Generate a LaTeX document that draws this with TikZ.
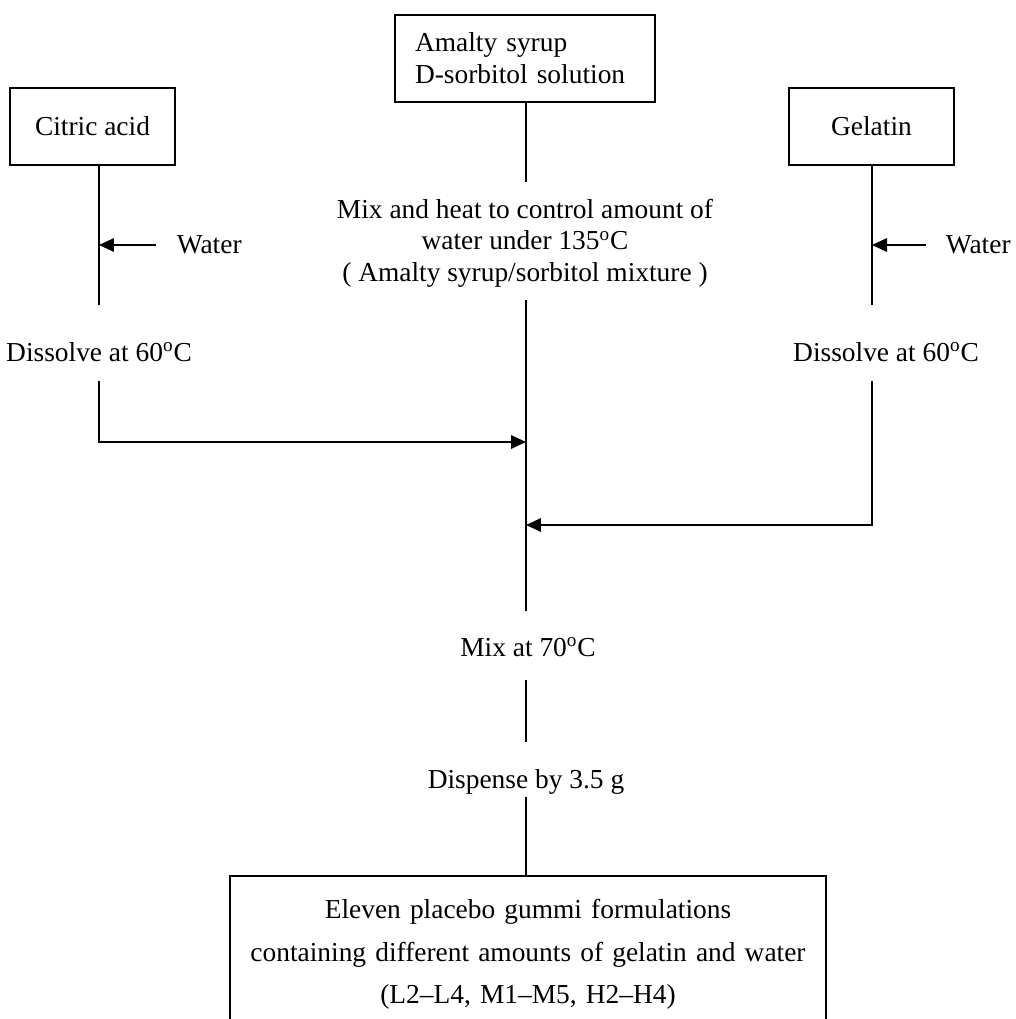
\documentclass[tikz,border=0pt]{standalone}
\usepackage{fontspec}
\setmainfont{Liberation Serif}
\usetikzlibrary{arrows.meta}

\begin{document}
\begin{tikzpicture}[x=0.02cm,y=-0.02cm,
line width=1pt,
font={\fontsize{15.6pt}{18pt}\selectfont},
box/.style={%
draw,
minimum width=3.3cm,
minimum height=1.54cm,
},
txt/.style={%
inner sep=0pt,
align=center,
},
arr/.style={%
-{Triangle[length=0.3cm,width=0.27cm]},
}
]

%page
\useasboundingbox (0,0) rectangle (1016,1019);
\clip (0,0) rectangle (1016,1019);
\coordinate (colL) at (99,0);
\coordinate (colM) at (526,0);
\coordinate (colR) at (872,0);
\coordinate (joinL) at (526,442);
\coordinate (joinR) at (526,525);

%Inputs
\node[box,minimum width=5.2cm,minimum height=1.74cm,align=left,text width=4.4cm,
  font={\fontsize{15.6pt}{18.1pt}\selectfont}] (syrup) at (525,58.5) {Amalty syrup\\D-sorbitol solution};
\node[box] (citric) at (92.5,126.5) {Citric acid};
\node[box] (gelatin) at (871.5,126.5) {Gelatin};

%Water
\node[txt,anchor=west] (waterL) at (176,245) {Water};
\node[txt,anchor=west] (waterR) at (945,245) {Water};

%Steps
\node[txt,anchor=base] (dissL) at (99,361) {Dissolve at 60\textsuperscript{o}C};
\node[txt,anchor=base] (dissR) at (886,361) {Dissolve at 60\textsuperscript{o}C};
\node[txt,anchor=north,font={\fontsize{15.6pt}{17.9pt}\selectfont}] (mixheat) at (525,198)
  {Mix and heat to control amount of\\water under 135\textsuperscript{o}C\\( Amalty syrup/sorbitol mixture )};
\node[txt,anchor=base] (mix70) at (528,656) {Mix at 70\textsuperscript{o}C};
\node[txt,anchor=base] (dispense) at (526,788) {Dispense by 3.5 g};

%Result
\node[draw,align=center,inner xsep=0pt,inner ysep=0.46cm,text width=11.92cm,anchor=north,
  font={\fontsize{15.6pt}{24.4pt}\selectfont}] (final) at (528,875)
  {Eleven placebo gummi formulations\\containing different amounts of gelatin and water\\(L2--L4, M1--M5, H2--H4)};

%Citric acid branch
\draw[shorten >=0.72cm] (citric.south -| colL) -- (dissL.north -| colL);
\draw[arr,shorten <=0.4cm] (waterL.west) -- (waterL.west -| colL);
\draw[arr,shorten <=0.38cm] (dissL.south -| colL) |- (joinL);

%Gelatin branch
\draw[shorten >=0.72cm] (gelatin.south -| colR) -- (dissR.north -| colR);
\draw[arr,shorten <=0.38cm] (waterR.west) -- (waterR.west -| colR);
\draw[arr,shorten <=0.38cm] (dissR.south -| colR) |- (joinR);

%Main line
\draw[shorten >=0.32cm] (syrup.south -| colM) -- (mixheat.north -| colM);
\draw[shorten <=0.25cm,shorten >=0.52cm] (mixheat.south -| colM) -- (mix70.north -| colM);
\draw[shorten <=0.46cm,shorten >=0.52cm] (mix70.south -| colM) -- (dispense.north -| colM);
\draw[shorten <=0.04cm] (dispense.south -| colM) -- (final.north -| colM);
\end{tikzpicture}
\end{document}
